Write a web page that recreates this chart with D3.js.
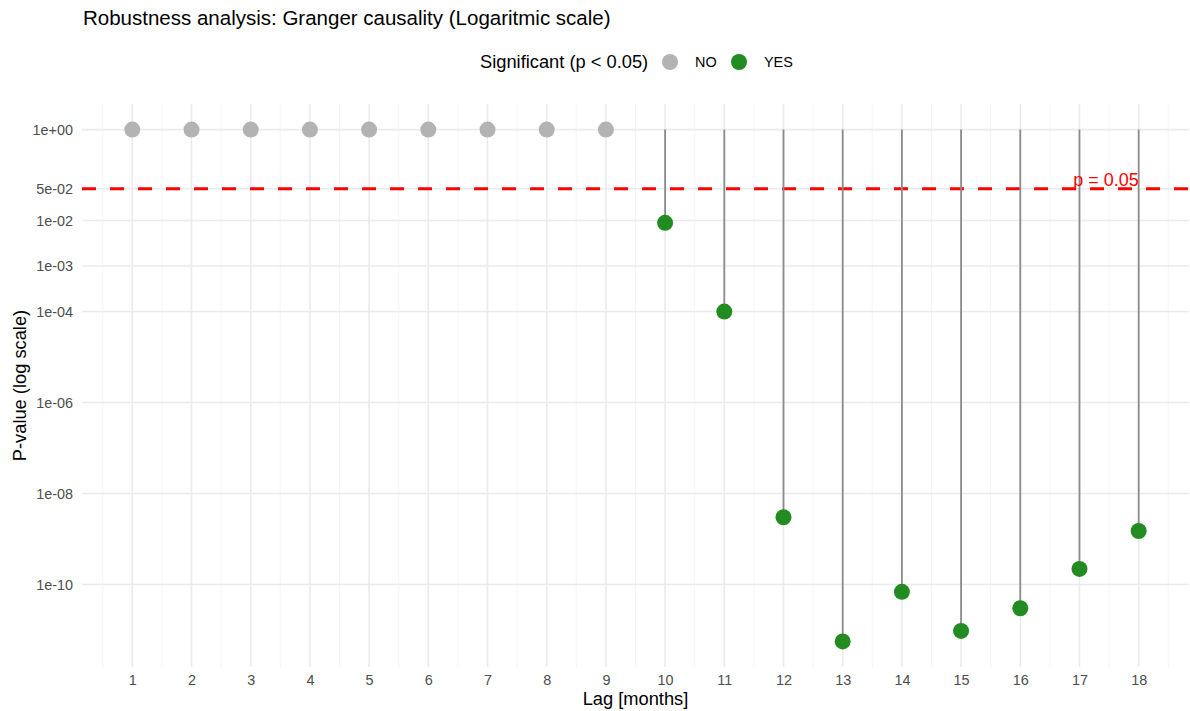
<!DOCTYPE html>
<meta charset="utf-8">
<script src="https://d3js.org/d3.v7.min.js"></script>
<style>
  body { margin: 0; background: #fff; }
  text { font-family: "Liberation Sans", Arial, sans-serif; }
</style>
<div id="my_dataviz"></div>
<script>

// data
var lags = [1, 2, 3, 4, 5, 6, 7, 8, 9, 10, 11, 12, 13, 14, 15, 16, 17, 18];
var pValues = [1, 1, 1, 1, 1, 1, 1, 1, 1,
               0.0089, 1.0e-4, 3.0e-9, 5.6e-12, 6.9e-11, 9.5e-12, 3.0e-11, 2.2e-10, 1.5e-9];
var yBreaks = [1, 0.05, 0.01, 1e-3, 1e-4, 1e-6, 1e-8, 1e-10];
var threshold = 0.05;
var groups = ["NO", "YES"];
var groupColors = ["#b3b3b3", "#228b22"];

var data = lags.map(function(d, i) {
  return {lag: d, p: pValues[i], sig: pValues[i] < threshold ? "YES" : "NO"};
});

var W = 1190, H = 711;
var margin = {top: 104, right: 1, bottom: 44, left: 82};

var svg = d3.select("#my_dataviz")
  .append("svg")
    .attr("width", W)
    .attr("height", H);

// x scale: continuous with ggplot's 5% expansion
var xExt = d3.extent(lags), xPad = (xExt[1] - xExt[0]) * 0.05;
var x = d3.scaleLinear()
  .domain([xExt[0] - xPad, xExt[1] + xPad])
  .range([margin.left, W - margin.right]);

// y scale: log10 with 5% expansion in log space
var lo = Math.log10(d3.min(pValues)), hi = Math.log10(d3.max(pValues));
var yPad = (hi - lo) * 0.05;
var y = d3.scaleLog()
  .domain([Math.pow(10, lo - yPad), Math.pow(10, hi + yPad)])
  .range([H - margin.bottom, margin.top]);

var color = d3.scaleOrdinal().domain(groups).range(groupColors);

function sciLabel(v) {
  var e = Math.floor(Math.log10(v) + 1e-9);
  var m = Math.round(v / Math.pow(10, e));
  var sign = e < 0 ? "-" : "+";
  var ae = Math.abs(e);
  return m + "e" + sign + (ae < 10 ? "0" + ae : ae);
}

var y0 = y.range()[1], y1 = y.range()[0];
var x0 = x.range()[0], x1 = x.range()[1];

// grid
var minorX = d3.range(xExt[0] - 0.5, xExt[1] + 1, 1);
svg.append("g").selectAll("line")
  .data(minorX)
  .enter().append("line")
    .attr("x1", d => x(d)).attr("x2", d => x(d))
    .attr("y1", y0).attr("y2", y1)
    .attr("stroke", "#f2f2f2").attr("stroke-width", 0.8);

svg.append("g").selectAll("line")
  .data(lags)
  .enter().append("line")
    .attr("x1", d => x(d)).attr("x2", d => x(d))
    .attr("y1", y0).attr("y2", y1)
    .attr("stroke", "#ebebeb").attr("stroke-width", 1.6);

svg.append("g").selectAll("line")
  .data(yBreaks)
  .enter().append("line")
    .attr("x1", x0).attr("x2", x1)
    .attr("y1", d => y(d)).attr("y2", d => y(d))
    .attr("stroke", "#ebebeb").attr("stroke-width", 1.6);

// axes (labels only, theme_minimal)
var xAxis = svg.append("g")
  .attr("transform", "translate(0," + y1 + ")")
  .call(d3.axisBottom(x).tickValues(lags).tickFormat(d3.format("d")).tickSize(0).tickPadding(8));
xAxis.select(".domain").remove();
xAxis.selectAll("text").attr("fill", "#4d4d4d").style("font-size", "14.4px");

var yAxis = svg.append("g")
  .attr("transform", "translate(" + x0 + ",0)")
  .call(d3.axisLeft(y).tickValues(yBreaks).tickFormat(sciLabel).tickSize(0).tickPadding(9));
yAxis.select(".domain").remove();
yAxis.selectAll("text").attr("fill", "#4d4d4d").style("font-size", "14.4px");

// threshold line
svg.append("line")
  .attr("x1", x0).attr("x2", x1)
  .attr("y1", y(threshold)).attr("y2", y(threshold))
  .attr("stroke", "#ff0000").attr("stroke-width", 3.2)
  .attr("stroke-dasharray", "14,14");

// segments
svg.append("g").selectAll("line")
  .data(data)
  .enter().append("line")
    .attr("x1", d => x(d.lag)).attr("x2", d => x(d.lag))
    .attr("y1", y(1)).attr("y2", d => y(d.p))
    .attr("stroke", "#8c8c8c").attr("stroke-width", 1.8);

// points
svg.append("g").selectAll("circle")
  .data(data)
  .enter().append("circle")
    .attr("cx", d => x(d.lag))
    .attr("cy", d => y(d.p))
    .attr("r", 8)
    .attr("fill", d => color(d.sig));

// threshold label
svg.append("text")
  .attr("x", x(17.5) - 3).attr("y", y(threshold) - 3)
  .attr("text-anchor", "middle")
  .attr("fill", "#ff0000")
  .style("font-size", "18px")
  .text("p = 0.05");

// title
svg.append("text")
  .attr("x", 83).attr("y", 25)
  .style("font-size", "20.5px")
  .text("Robustness analysis: Granger causality (Logaritmic scale)");

// axis titles
svg.append("text")
  .attr("x", (x0 + x1) / 2).attr("y", 705)
  .attr("text-anchor", "middle")
  .style("font-size", "18.3px")
  .text("Lag [months]");

svg.append("text")
  .attr("transform", "translate(26," + ((y0 + y1) / 2) + ") rotate(-90)")
  .attr("text-anchor", "middle")
  .style("font-size", "18.3px")
  .text("P-value (log scale)");

// legend
var legend = svg.append("g");
legend.append("text")
  .attr("x", 480).attr("y", 68)
  .style("font-size", "18.3px")
  .text("Significant (p < 0.05)");

var keyX = [670, 739];
groups.forEach(function(g, i) {
  legend.append("circle")
    .attr("cx", keyX[i]).attr("cy", 62).attr("r", 8)
    .attr("fill", color(g));
  legend.append("text")
    .attr("x", keyX[i] + 25).attr("y", 67)
    .style("font-size", "14.4px")
    .text(g);
});

</script>
